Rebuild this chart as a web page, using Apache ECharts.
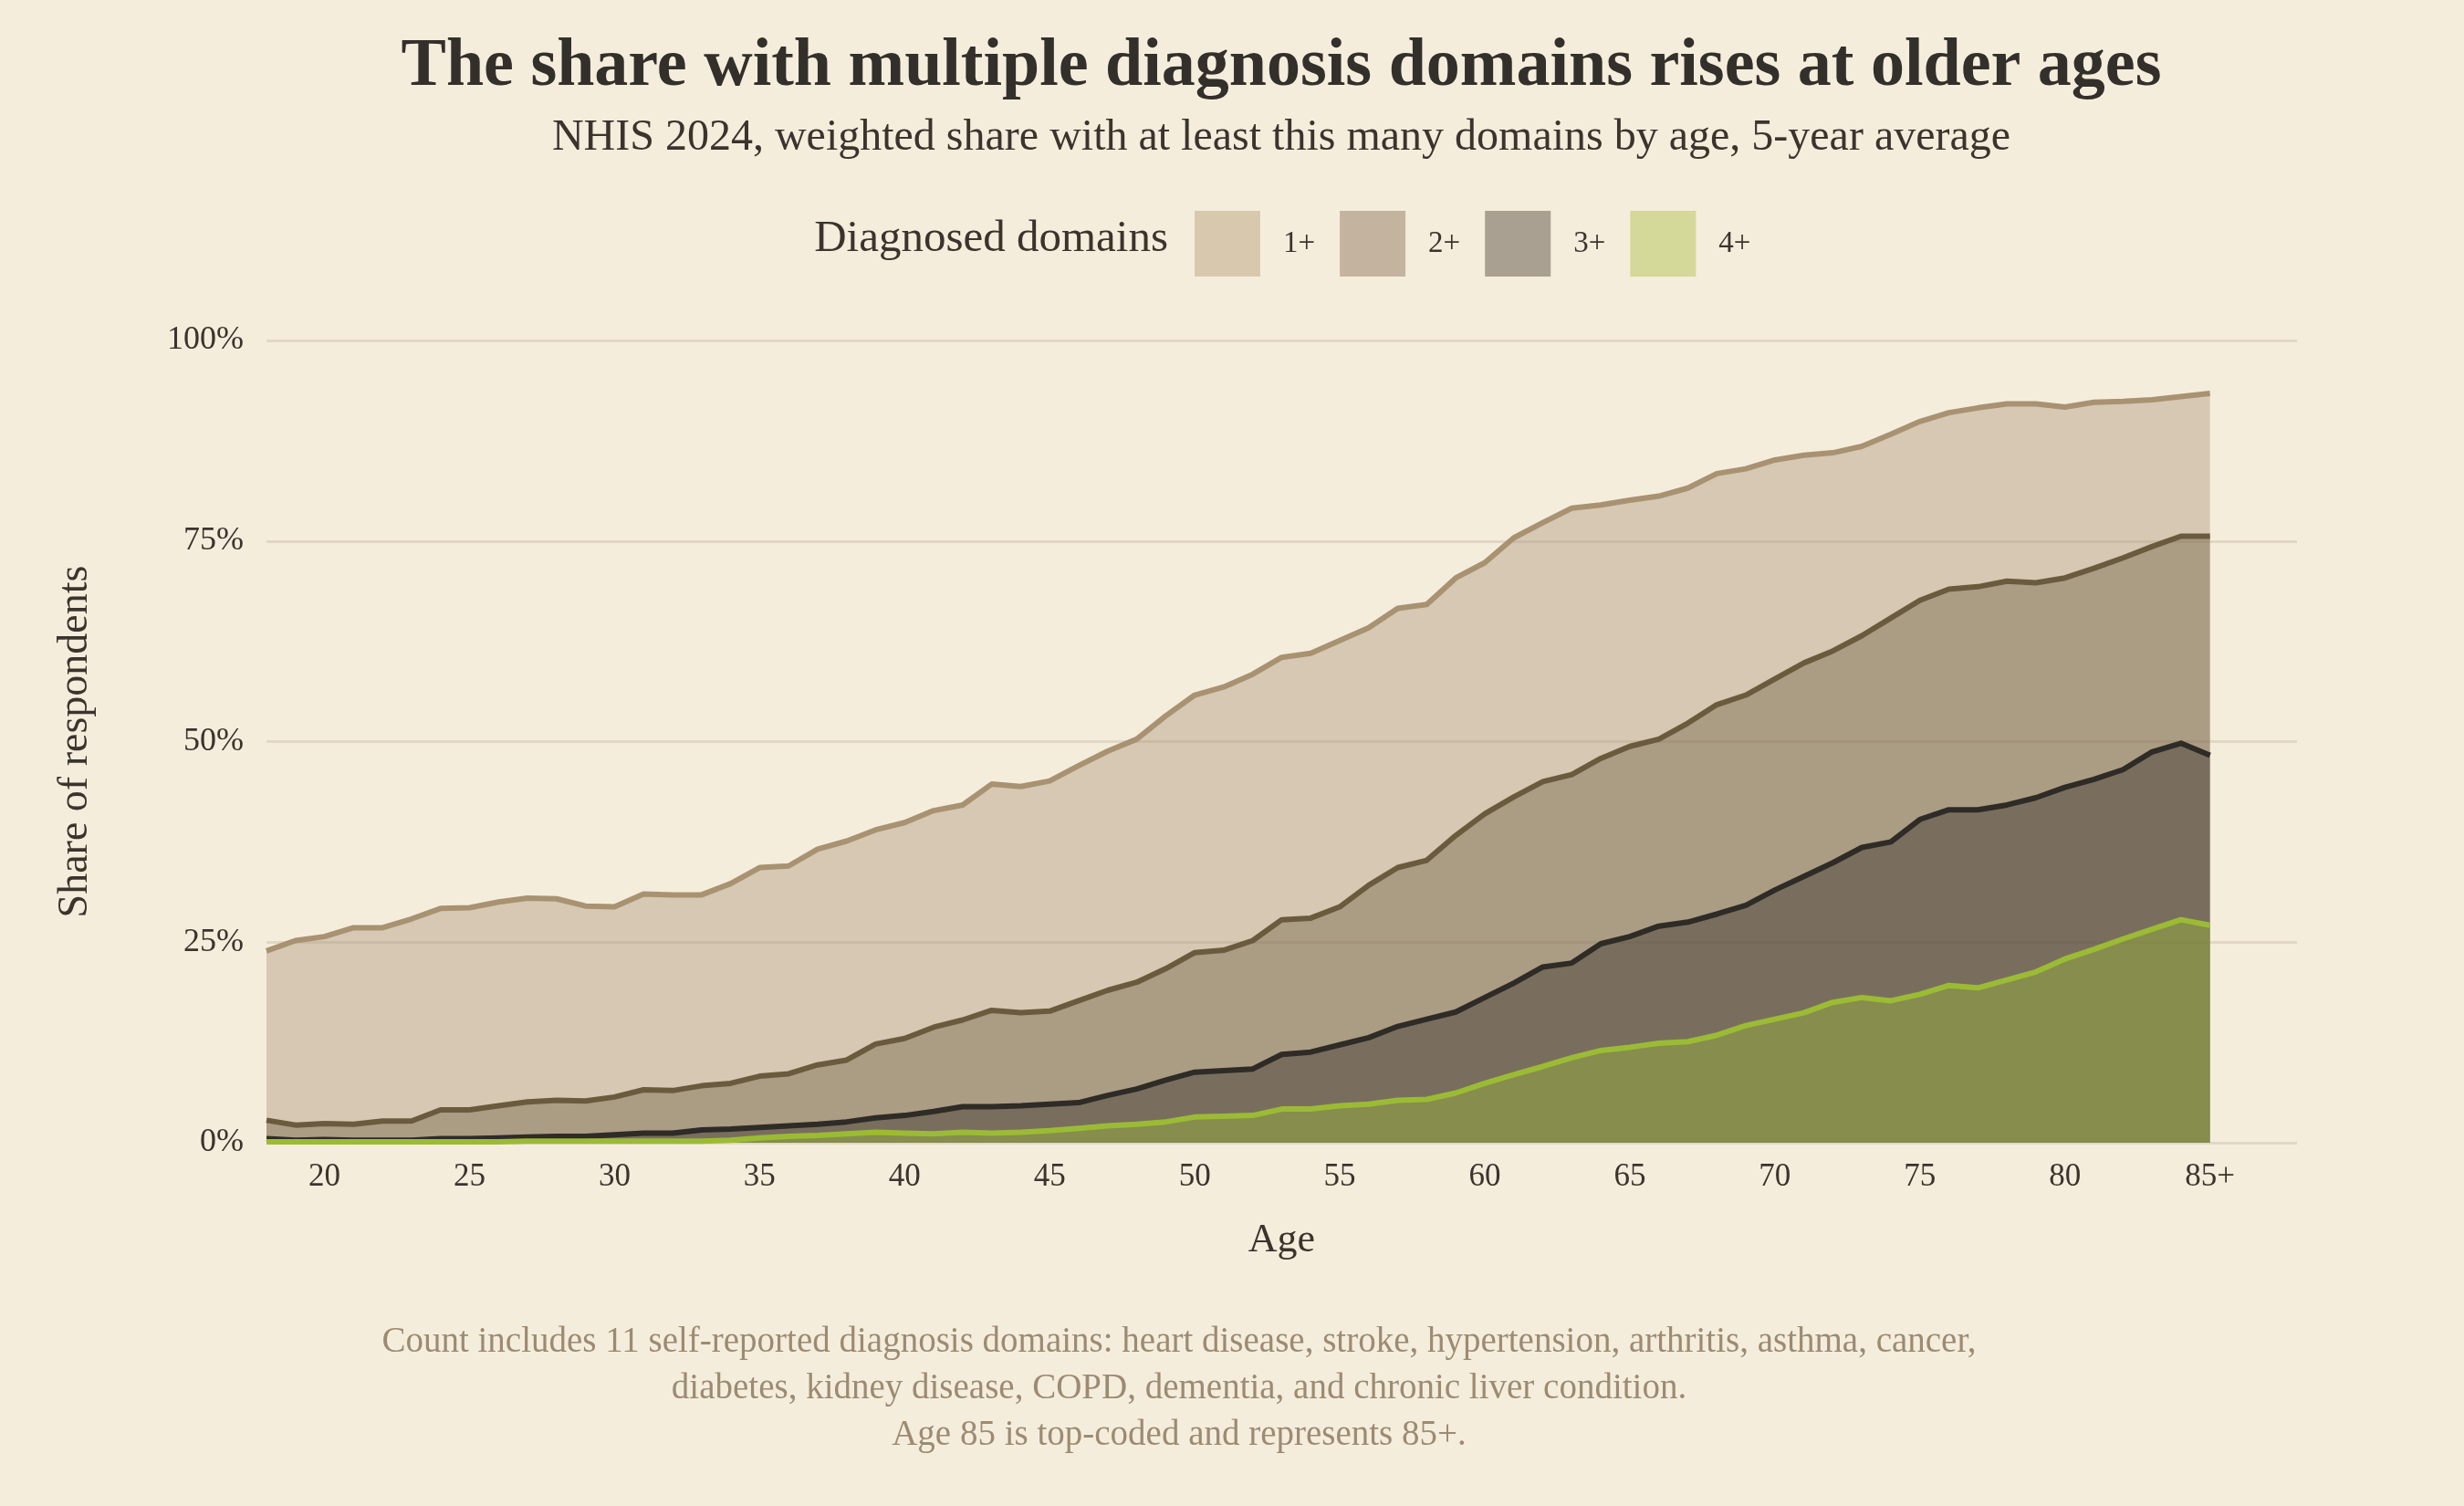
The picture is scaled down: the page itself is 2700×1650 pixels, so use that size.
<!DOCTYPE html>
<html>
<head>
<meta charset="utf-8">
<script src="https://cdn.jsdelivr.net/npm/echarts@6/dist/echarts.min.js"></script>
<style>
  html, body { margin: 0; padding: 0; background: #f5eddc; }
  #chart { width: 2700px; height: 1650px; }
</style>
</head>
<body>
<div id="chart"></div>
<script>
// ages 18..85 (85 is top-coded, shown as 85+)
var ages = [];
for (var a = 18; a <= 85; a++) ages.push(a);

var tickAges = [20, 25, 30, 35, 40, 45, 50, 55, 60, 65, 70, 75, 80, 85];
var yTicks = [0, 25, 50, 75, 100];

var seriesNames = ['1+', '2+', '3+', '4+'];
var lineColors = ['#a89272', '#6b5b3e', '#2f2b26', '#9bbb35'];
var swatchColors = ['#d8c9ae', '#c4b49f', '#a9a092', '#d4d899'];

// share (%) with at least N domains
var onePlus = [23.9, 25.2, 25.7, 26.8, 26.8, 27.9, 29.2, 29.3, 30.0, 30.5,
  30.4, 29.5, 29.4, 31.0, 30.9, 30.9, 32.3, 34.3, 34.5, 36.6,
  37.6, 39.0, 39.9, 41.4, 42.1, 44.7, 44.4, 45.1, 47.0, 48.8,
  50.3, 53.2, 55.8, 56.8, 58.4, 60.5, 61.0, 62.6, 64.2, 66.6,
  67.1, 70.4, 72.3, 75.4, 77.3, 79.1, 79.5, 80.1, 80.6, 81.6,
  83.4, 84.0, 85.1, 85.7, 86.0, 86.8, 88.3, 89.9, 91.0, 91.6,
  92.1, 92.1, 91.7, 92.3, 92.4, 92.6, 93.0, 93.4];
var twoPlus = [2.8, 2.2, 2.4, 2.3, 2.7, 2.7, 4.1, 4.1, 4.6, 5.1,
  5.3, 5.2, 5.7, 6.6, 6.5, 7.1, 7.4, 8.3, 8.6, 9.7,
  10.3, 12.3, 13.0, 14.4, 15.3, 16.5, 16.2, 16.4, 17.7, 19.0,
  20.0, 21.7, 23.7, 24.0, 25.2, 27.8, 28.0, 29.4, 32.1, 34.3,
  35.2, 38.3, 41.0, 43.1, 45.0, 45.9, 47.9, 49.4, 50.3, 52.3,
  54.6, 55.8, 57.8, 59.8, 61.3, 63.2, 65.4, 67.6, 69.0, 69.3,
  70.0, 69.8, 70.4, 71.6, 72.9, 74.3, 75.6, 75.6];
var threePlus = [0.5, 0.3, 0.4, 0.3, 0.3, 0.3, 0.5, 0.5, 0.6, 0.7,
  0.8, 0.8, 1.0, 1.2, 1.2, 1.6, 1.7, 1.9, 2.1, 2.3,
  2.6, 3.1, 3.4, 3.9, 4.5, 4.5, 4.6, 4.8, 5.0, 5.9,
  6.7, 7.8, 8.8, 9.0, 9.2, 11.0, 11.3, 12.2, 13.1, 14.5,
  15.4, 16.3, 18.1, 19.9, 21.9, 22.4, 24.8, 25.7, 27.0, 27.5,
  28.5, 29.6, 31.5, 33.2, 34.9, 36.8, 37.5, 40.3, 41.5, 41.5,
  42.1, 43.0, 44.3, 45.3, 46.5, 48.7, 49.8, 48.3];
var fourPlus = [0.1, 0.1, 0.1, 0.1, 0.1, 0.1, 0.1, 0.1, 0.1, 0.2,
  0.2, 0.2, 0.2, 0.2, 0.2, 0.2, 0.3, 0.6, 0.8, 0.9,
  1.1, 1.3, 1.2, 1.1, 1.3, 1.2, 1.3, 1.5, 1.8, 2.1,
  2.3, 2.6, 3.2, 3.3, 3.4, 4.2, 4.2, 4.6, 4.8, 5.3,
  5.4, 6.2, 7.4, 8.5, 9.5, 10.6, 11.5, 11.9, 12.4, 12.6,
  13.4, 14.6, 15.4, 16.2, 17.5, 18.1, 17.7, 18.5, 19.6, 19.3,
  20.3, 21.3, 22.9, 24.1, 25.4, 26.6, 27.8, 27.1];

var allValues = [onePlus, twoPlus, threePlus, fourPlus];

var serifFont = '"Liberation Serif", "DejaVu Serif", serif';

function pairs(vals) {
  return ages.map(function (age, i) { return [age, vals[i]]; });
}

var series = seriesNames.map(function (name, i) {
  return {
    name: name,
    type: 'line',
    data: pairs(allValues[i]),
    symbol: 'none',
    smooth: false,
    lineStyle: { color: lineColors[i], width: 6, join: 'round' },
    itemStyle: { color: lineColors[i] },
    areaStyle: { color: lineColors[i], opacity: 0.4 },
    z: 2 + i
  };
});

var option = {
  backgroundColor: '#f5eddc',
  animation: false,
  textStyle: { fontFamily: serifFont },
  graphic: [
    {
      type: 'text', x: 1404, y: 74,
      style: {
        text: 'The share with multiple diagnosis domains rises at older ages',
        fill: '#332f2a', fontFamily: serifFont, fontWeight: 'bold', fontSize: 74,
        align: 'center', verticalAlign: 'middle'
      }
    },
    {
      type: 'text', x: 1404, y: 151,
      style: {
        text: 'NHIS 2024, weighted share with at least this many domains by age, 5-year average',
        fill: '#3a342d', fontFamily: serifFont, fontSize: 48,
        align: 'center', verticalAlign: 'middle'
      }
    },
    {
      type: 'text', x: 1280, y: 262,
      style: {
        text: 'Diagnosed domains',
        fill: '#3a342d', fontFamily: serifFont, fontSize: 49,
        align: 'right', verticalAlign: 'middle'
      }
    },
    {
      type: 'text', x: 1292, y: 1522,
      style: {
        text: 'Count includes 11 self-reported diagnosis domains: heart disease, stroke, hypertension, arthritis, asthma, cancer,\n' +
              'diabetes, kidney disease, COPD, dementia, and chronic liver condition.\n' +
              'Age 85 is top-coded and represents 85+.',
        fill: '#9c8b72', fontFamily: serifFont, fontSize: 39, lineHeight: 51,
        align: 'center', verticalAlign: 'middle'
      }
    }
  ],
  legend: {
    left: 1304,
    top: 226,
    itemWidth: 72,
    itemHeight: 72,
    itemGap: 27,
    icon: 'rect',
    selectedMode: false,
    textStyle: { fontFamily: serifFont, fontSize: 33, color: '#3a342d', padding: [0, 0, 0, 20] },
    data: seriesNames.map(function (n, i) {
      return { name: n, itemStyle: { color: swatchColors[i], opacity: 1 } };
    })
  },
  grid: { left: 292, right: 183, top: 373, bottom: 398, containLabel: false },
  xAxis: {
    type: 'value',
    min: 18,
    max: 88,
    name: 'Age',
    nameLocation: 'middle',
    nameGap: 85,
    nameTextStyle: { fontFamily: serifFont, fontSize: 44, color: '#3a342d' },
    axisLine: { show: false },
    axisTick: { show: false },
    splitLine: { show: false },
    axisLabel: {
      customValues: tickAges,
      margin: 20,
      fontFamily: serifFont, fontSize: 35, color: '#3a342d',
      formatter: function (v) { return v === 85 ? '85+' : String(v); }
    }
  },
  yAxis: {
    type: 'value',
    min: 0,
    max: 100,
    interval: 25,
    name: 'Share of respondents',
    nameLocation: 'middle',
    nameGap: 186,
    nameTextStyle: { fontFamily: serifFont, fontSize: 46, color: '#3a342d' },
    axisLine: { show: false },
    axisTick: { show: false },
    axisLabel: {
      margin: 25,
      fontFamily: serifFont, fontSize: 36, color: '#3a342d',
      formatter: function (v) { return yTicks.indexOf(v) >= 0 ? v + '%' : ''; }
    },
    splitLine: { show: true, lineStyle: { color: '#e2d7c5', width: 3 } }
  },
  series: series
};

var chart = echarts.init(document.getElementById('chart'), null, { renderer: 'canvas' });
chart.setOption(option);
</script>
</body>
</html>
